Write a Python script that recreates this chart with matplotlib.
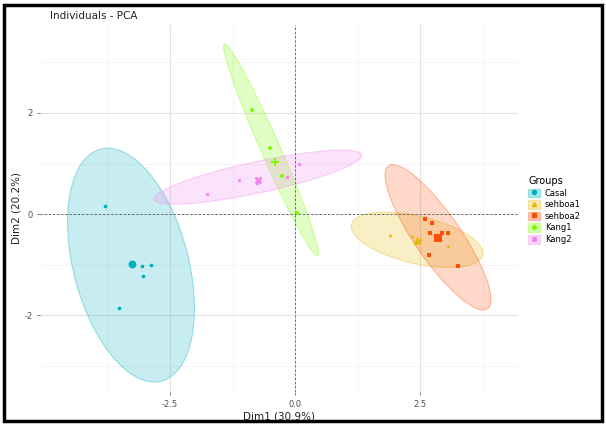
import numpy as np
import matplotlib
matplotlib.use("Agg")
import matplotlib.pyplot as plt
from matplotlib.patches import Ellipse, Patch, Rectangle
from matplotlib.lines import Line2D

plt.rcParams["axes.unicode_minus"] = False

# Individuals (Dim1, Dim2) per group
groups = ["Casal", "sehboa1", "sehboa2", "Kang1", "Kang2"]
colors = ["#00AFBB", "#E7B800", "#FC4E07", "#7CFC00", "#EE82EE"]
markers = ["o", "^", "s", "P", "X"]

casal_x = [-3.80, -3.06, -2.88, -3.04, -3.52]
casal_y = [0.16, -1.03, -1.01, -1.23, -1.86]
sehboa1_x = [1.90, 2.34, 2.40, 2.50, 3.06]
sehboa1_y = [-0.42, -0.44, -0.55, -0.50, -0.64]
sehboa2_x = [2.60, 2.74, 2.70, 2.94, 3.06, 2.68, 3.26]
sehboa2_y = [-0.10, -0.18, -0.38, -0.38, -0.38, -0.81, -1.03]
kang1_x = [-0.86, -0.50, -0.26, 0.04]
kang1_y = [2.06, 1.30, 0.76, 0.02]
kang2_x = [-1.76, -1.12, -0.76, -0.72, -0.16, 0.08]
kang2_y = [0.40, 0.67, 0.61, 0.66, 0.73, 1.00]

# concentration ellipses: centre, full major / minor length, angle (deg)
ell_cx = [-3.28, 2.44, 2.86, -0.48, -0.74]
ell_cy = [-1.01, -0.51, -0.46, 1.27, 0.73]
ell_w = [4.75, 2.69, 3.45, 4.58, 4.24]
ell_h = [2.30, 0.94, 0.92, 0.38, 0.62]
ell_ang = [105, -13, 125, 114, 12]

xs = [casal_x, sehboa1_x, sehboa2_x, kang1_x, kang2_x]
ys = [casal_y, sehboa1_y, sehboa2_y, kang1_y, kang2_y]

fig = plt.figure(figsize=(6.06, 4.24), dpi=100)
ax = fig.add_axes([40 / 606, 1 - 392 / 424, 478 / 606, 367 / 424])

for i, g in enumerate(groups):
    e = Ellipse((ell_cx[i], ell_cy[i]), ell_w[i], ell_h[i], angle=ell_ang[i],
                facecolor=colors[i], alpha=0.22, edgecolor="none", zorder=2)
    ax.add_patch(e)
    e2 = Ellipse((ell_cx[i], ell_cy[i]), ell_w[i], ell_h[i], angle=ell_ang[i],
                 facecolor="none", edgecolor=colors[i], alpha=0.35, lw=0.8, zorder=2)
    ax.add_patch(e2)

for i, g in enumerate(groups):
    ax.scatter(xs[i], ys[i], s=7, color=colors[i], marker=markers[i], lw=0, zorder=4)
    ax.scatter([np.mean(xs[i])], [np.mean(ys[i])], s=32, color=colors[i],
               marker=markers[i], lw=0, zorder=5)

ax.axhline(0, color="#555555", ls=(0, (2.5, 2.5)), lw=0.6, zorder=3)
ax.axvline(0, color="#555555", ls=(0, (2.5, 2.5)), lw=0.6, zorder=3)

ax.set_xlim(-5.1, 4.46)
ax.set_ylim(-3.52, 3.74)
ax.set_xticks([-2.5, 0.0, 2.5])
ax.set_xticklabels(["-2.5", "0.0", "2.5"])
ax.set_yticks([-2, 0, 2])
ax.set_xticks([-3.75, -1.25, 1.25, 3.75], minor=True)
ax.set_yticks([-3, -1, 1, 3], minor=True)
ax.grid(which="major", color="#E3E3E3", lw=0.8, zorder=0)
ax.grid(which="minor", color="#F0F0F0", lw=0.5, zorder=0)
ax.set_axisbelow(True)
for s in ax.spines.values():
    s.set_visible(False)
ax.tick_params(which="major", labelsize=6, colors="#4D4D4D", length=2, width=0.5)
ax.tick_params(which="minor", length=0)
ax.set_xlabel("Dim1 (30.9%)", fontsize=7.5, color="#222222", labelpad=2)
ax.set_ylabel("Dim2 (20.2%)", fontsize=7.5, color="#222222", labelpad=2)
fig.text(50 / 606, 1 - 16 / 424, "Individuals - PCA", fontsize=7.5, color="#222222", va="center")

handles = []
for i, g in enumerate(groups):
    handles.append((Patch(facecolor=colors[i], alpha=0.3, edgecolor=colors[i]),
                    Line2D([], [], marker=markers[i], color=colors[i], ls="none", markersize=3)))
leg = fig.legend(handles, groups, title="Groups", loc="upper left",
                 bbox_to_anchor=(524 / 606, 1 - 172 / 424), frameon=False,
                 fontsize=6, title_fontsize=7, handlelength=1.4, handleheight=1.2,
                 labelspacing=0.3, handletextpad=0.6, borderpad=0)
leg._legend_box.align = "left"

fig.patches.append(Rectangle((0.006, 0.006), 0.988, 0.982, transform=fig.transFigure,
                             fill=False, edgecolor="black", lw=2.5))

fig.savefig("out.png", dpi=100)
